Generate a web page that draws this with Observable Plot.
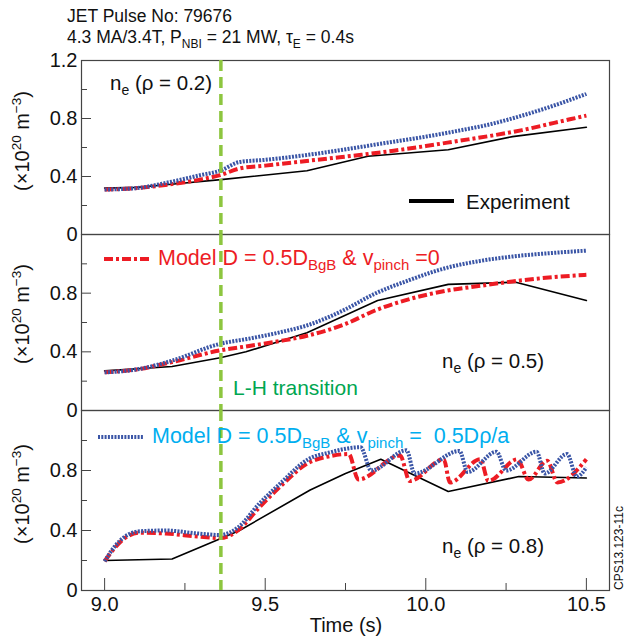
<!DOCTYPE html>
<html><head><meta charset="utf-8">
<script src="https://cdn.jsdelivr.net/npm/d3@7"></script>
<script src="https://cdn.jsdelivr.net/npm/@observablehq/plot@0.6"></script>
<style>
body{margin:0;background:#fff;}
#wrap{position:relative;width:634px;height:641px;font-family:"Liberation Sans",Arial,Helvetica,sans-serif;}
#wrap svg{position:absolute;left:0;}
</style></head><body><div id="wrap"></div>
<script>
// ---- axis ticks ----
const xTicks = [9.0, 9.5, 10.0, 10.5];
const xMinorTicks = [9.25, 9.75, 10.25];
const yTicksTop = [0, 0.4, 0.8, 1.2];
const yTicks = [0, 0.4, 0.8];
const yMinorTicks = [0.2, 0.6, 1.0];
const lhTime = 9.362; // L-H transition

// ---- rho = 0.2 ----
const expTime02 = [9.0, 9.1, 9.2, 9.37, 9.63, 9.82, 10.07, 10.27, 10.5];
const exp02 = [0.32, 0.325, 0.345, 0.38, 0.44, 0.54, 0.585, 0.675, 0.74];
const modTime02 = [9.0, 9.1, 9.2, 9.3, 9.36, 9.42, 9.5, 9.6, 9.7, 9.8, 9.9, 10.0, 10.1, 10.2, 10.3, 10.4, 10.5];
const pinch0_02 = [0.31, 0.32, 0.345, 0.38, 0.41, 0.455, 0.475, 0.50, 0.525, 0.55, 0.578, 0.61, 0.645, 0.68, 0.72, 0.77, 0.82];
const pinch_02 = [0.31, 0.32, 0.36, 0.41, 0.44, 0.50, 0.515, 0.54, 0.57, 0.605, 0.64, 0.675, 0.715, 0.76, 0.82, 0.89, 0.97];

// ---- rho = 0.5 ----
const expTime05 = [9.0, 9.21, 9.36, 9.44, 9.63, 9.85, 10.07, 10.28, 10.5];
const exp05 = [0.27, 0.30, 0.36, 0.40, 0.53, 0.75, 0.86, 0.875, 0.75];
const modTime05 = [9.0, 9.1, 9.21, 9.36, 9.45, 9.55, 9.63, 9.75, 9.84, 9.95, 10.06, 10.17, 10.27, 10.4, 10.5];
const pinch0_05 = [0.26, 0.28, 0.33, 0.41, 0.44, 0.475, 0.51, 0.59, 0.68, 0.76, 0.815, 0.85, 0.88, 0.91, 0.925];
const pinch_05 = [0.26, 0.28, 0.34, 0.455, 0.49, 0.535, 0.58, 0.69, 0.795, 0.89, 0.97, 1.02, 1.05, 1.075, 1.09];

// ---- rho = 0.8 ----
const expTime08 = [9.0, 9.21, 9.36, 9.42, 9.64, 9.75, 9.86, 10.07, 10.29, 10.5];
const exp08 = [0.20, 0.21, 0.345, 0.40, 0.67, 0.78, 0.875, 0.66, 0.76, 0.75];
const pinch0Time08 = [9.0, 9.03, 9.06, 9.11, 9.19, 9.29, 9.36, 9.415, 9.48, 9.55, 9.634, 9.70, 9.76, 9.79, 9.92, 9.95, 10.056, 10.075, 10.17, 10.195, 10.285, 10.32, 10.378, 10.41, 10.5];
const pinch0_08 = [0.195, 0.28, 0.345, 0.385, 0.38, 0.36, 0.35, 0.40, 0.55, 0.70, 0.85, 0.895, 0.91, 0.74, 0.90, 0.73, 0.875, 0.72, 0.875, 0.73, 0.875, 0.74, 0.865, 0.72, 0.875];
const pinchTime08 = [9.0, 9.03, 9.06, 9.11, 9.19, 9.29, 9.36, 9.415, 9.48, 9.55, 9.634, 9.70, 9.797, 9.83, 9.94, 9.965, 10.105, 10.13, 10.22, 10.25, 10.345, 10.37, 10.44, 10.47, 10.5];
const pinch_08 = [0.195, 0.29, 0.355, 0.395, 0.40, 0.38, 0.37, 0.42, 0.575, 0.72, 0.875, 0.92, 0.955, 0.80, 0.935, 0.78, 0.93, 0.79, 0.925, 0.80, 0.925, 0.78, 0.91, 0.76, 0.82];

const zip = (ts, vs) => ts.map((t, i) => ({t, v: vs[i]}));

const RED = "#ed1c24", BLUE = "#3a55a6", GREEN = "#8dc63f";
const RED_DASH = "9,3,3,3", BLUE_DASH = "2,1.3";
const xDomain = [8.928, 10.572];
const wrap = document.getElementById("wrap");

function panel({top, height, mt, mb, yt, exp, red, blue, xAxis}) {
  const marks = [
    Plot.frame({stroke: "#444", strokeWidth: 1.2}),
    Plot.axisY(yt, {tickSize: -10, tickPadding: 14, fontSize: 20, stroke: "#444", label: null,
      tickFormat: d => d === 0 ? "0" : d3.format(".1f")(d)}),
    Plot.axisY(yMinorTicks, {tickSize: -6, stroke: "#444", tickFormat: () => "", label: null}),
    Plot.line(exp, {x: "t", y: "v", stroke: "#000", strokeWidth: 1.6}),
    Plot.line(red, {x: "t", y: "v", stroke: RED, strokeWidth: 4, strokeDasharray: RED_DASH, strokeLinecap: "butt", curve: "monotone-x"}),
    Plot.line(blue, {x: "t", y: "v", stroke: BLUE, strokeWidth: 4, strokeDasharray: BLUE_DASH, strokeLinecap: "butt", curve: "monotone-x"}),
    Plot.ruleX([lhTime], {stroke: GREEN, strokeWidth: 3.5, strokeDasharray: "11,6", strokeLinecap: "butt"})
  ];
  if (xAxis) {
    marks.push(Plot.axisX(xTicks, {tickSize: -12, tickPadding: 18, fontSize: 20, stroke: "#444", label: null, tickFormat: d3.format(".1f")}));
    marks.push(Plot.axisX(xMinorTicks, {tickSize: -7, stroke: "#444", tickFormat: () => "", label: null}));
  }
  const p = Plot.plot({
    width: 634, height,
    marginLeft: 81, marginRight: 25, marginTop: mt, marginBottom: mb,
    x: {domain: xDomain, axis: xAxis ? undefined : null},
    y: {domain: [0, 1.2]},
    style: {background: "transparent", overflow: "visible", fontFamily: "'Liberation Sans', Arial, sans-serif", color: "#111"},
    marks
  });
  p.style.top = top + "px";
  wrap.appendChild(p);
}

panel({top: 0, height: 236, mt: 60, mb: 2, yt: yTicksTop, exp: zip(expTime02, exp02), red: zip(modTime02, pinch0_02), blue: zip(modTime02, pinch_02)});
panel({top: 232, height: 180, mt: 2, mb: 2, yt: yTicks, exp: zip(expTime05, exp05), red: zip(modTime05, pinch0_05), blue: zip(modTime05, pinch_05)});
panel({top: 408, height: 233, mt: 2, mb: 51, yt: yTicks, exp: zip(expTime08, exp08), red: zip(pinch0Time08, pinch0_08), blue: zip(pinchTime08, pinch_08), xAxis: true});

// ---- overlay text & legends ----
const sub = (s, sz = 13.5) => `<tspan font-size="${sz}" baseline-shift="-5">${s}</tspan>`;
const sup = (s, sz = 13.5) => `<tspan font-size="${sz}" baseline-shift="8">${s}</tspan>`;
const ylab = (cy) => `<text transform="translate(29,${cy}) rotate(-90)" text-anchor="middle" font-size="20">(×10${sup("20")} m${sup("−3")})</text>`;
const ov = `
<svg width="634" height="641" style="top:0;overflow:visible" font-family="'Liberation Sans', Arial, sans-serif" fill="#111">
  <text x="67" y="22" font-size="17.5">JET Pulse No: 79676</text>
  <text x="67" y="43" font-size="17.5">4.3 MA/3.4T, P${sub("NBI", 12)} = 21 MW, τ${sub("E", 12)} = 0.4s</text>
  ${ylab(141)}${ylab(314)}${ylab(494)}
  <text x="110" y="90" font-size="20.5">n${sub("e", 14)} (ρ = 0.2)</text>
  <text x="442" y="368" font-size="20.5">n${sub("e", 14)} (ρ = 0.5)</text>
  <text x="442" y="553" font-size="20.5">n${sub("e", 14)} (ρ = 0.8)</text>
  <line x1="409" x2="454" y1="201" y2="201" stroke="#000" stroke-width="4"/>
  <text x="466" y="209" font-size="20.5">Experiment</text>
  <line x1="104" x2="150" y1="259" y2="259" stroke="${RED}" stroke-width="4" stroke-dasharray="${RED_DASH}"/>
  <text x="158" y="265" font-size="21.5" fill="${RED}">Model D = 0.5D${sub("BgB", 15)} &amp; v${sub("pinch", 15)} =0</text>
  <line x1="98" x2="143" y1="437" y2="437" stroke="${BLUE}" stroke-width="4" stroke-dasharray="${BLUE_DASH}"/>
  <text x="152" y="443" font-size="21.5" fill="#00aeef" xml:space="preserve">Model D = 0.5D${sub("BgB", 15)} &amp; v${sub("pinch", 15)} =  0.5Dρ/a</text>
  <text x="233" y="395" font-size="21" fill="#00a651">L-H transition</text>
  <text x="346" y="632" font-size="20" text-anchor="middle">Time (s)</text>
  <text transform="translate(623,548) rotate(-90)" text-anchor="middle" font-size="12">CPS13.123-11c</text>
</svg>`;
wrap.insertAdjacentHTML("beforeend", ov);
</script></body></html>
